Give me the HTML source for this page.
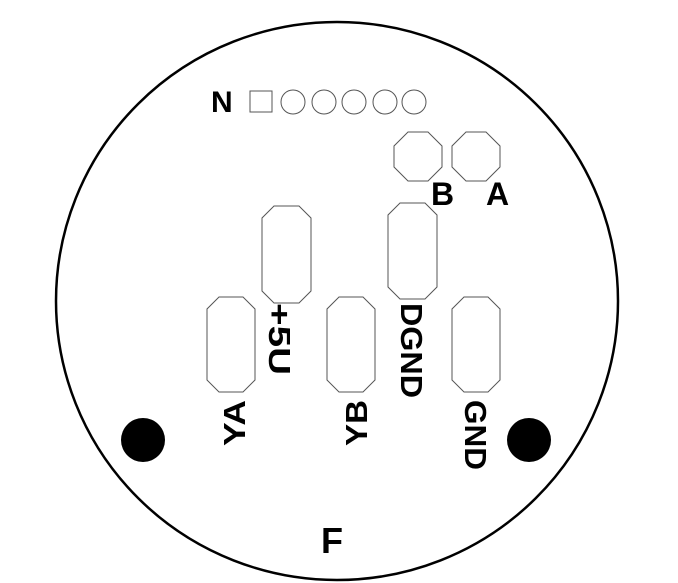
<!DOCTYPE html>
<html><head><style>html,body{margin:0;padding:0;background:#fff}svg{display:block}
text{font-family:"Liberation Sans",sans-serif;font-weight:bold;fill:#000}</style></head>
<body>
<svg width="678" height="583" viewBox="0 0 678 583" xmlns="http://www.w3.org/2000/svg">
<ellipse cx="337" cy="301" rx="281" ry="279" fill="none" stroke="#000" stroke-width="2.5"/>
<text x="211" y="112" font-size="30">N</text>
<rect x="250" y="91" width="22" height="21" fill="none" stroke="#555" stroke-width="1"/>
<g fill="none" stroke="#555" stroke-width="1">
<circle cx="293" cy="102" r="12"/><circle cx="324" cy="102" r="12"/><circle cx="354" cy="102" r="12"/><circle cx="385" cy="102" r="12"/><circle cx="414" cy="102" r="12"/>
<polygon points="408,132 428,132 442,146 442,167 428,181 408,181 394,167 394,146"/>
<polygon points="466,132 486,132 500,146 500,167 486,181 466,181 452,167 452,146"/>
<polygon points="274,206 299,206 311,218 311,291 299,303 274,303 262,291 262,218"/>
<polygon points="400,203 425,203 437,215 437,287 425,299 400,299 388,287 388,215"/>
<polygon points="219,297 243,297 255,309 255,380 243,392 219,392 207,380 207,309"/>
<polygon points="339,297 363,297 375,309 375,380 363,392 339,392 327,380 327,309"/>
<polygon points="464,297 488,297 500,309 500,380 488,392 464,392 452,380 452,309"/>
</g>
<text x="431" y="205" font-size="32">B</text>
<text x="486" y="205" font-size="32">A</text>
<text font-size="31" transform="translate(269,303) rotate(90)" textLength="72" lengthAdjust="spacingAndGlyphs">+5U</text>
<text font-size="31" transform="translate(401,303) rotate(90)" textLength="95" lengthAdjust="spacingAndGlyphs">DGND</text>
<text font-size="31" transform="translate(465,400) rotate(90)" textLength="70" lengthAdjust="spacingAndGlyphs">GND</text>
<text font-size="31" transform="translate(245,446) rotate(-90)" textLength="46" lengthAdjust="spacingAndGlyphs">YA</text>
<text font-size="31" transform="translate(367,446) rotate(-90)" textLength="46" lengthAdjust="spacingAndGlyphs">YB</text>
<circle cx="143" cy="440" r="22" fill="#000"/>
<circle cx="529" cy="440" r="22" fill="#000"/>
<text x="321" y="553" font-size="36">F</text>
</svg>
</body></html>
